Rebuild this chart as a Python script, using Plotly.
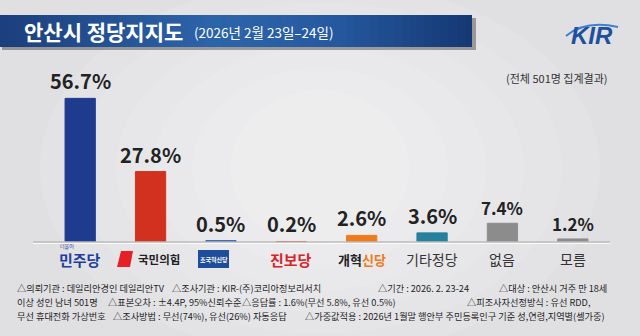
import plotly.graph_objects as go

# ---- data ----
parties = ["더불어민주당", "국민의힘", "조국혁신당", "진보당", "개혁신당", "기타정당", "없음", "모름"]
values = [56.7, 27.8, 0.5, 0.2, 2.6, 3.6, 7.4, 1.2]
value_labels = ["56.7%", "27.8%", "0.5%", "0.2%", "2.6%", "3.6%", "7.4%", "1.2%"]
bar_colors = ["#1f3b8e", "#d3311f", "#1f56a8", "#d9262b", "#ef7b1d", "#27809e", "#8c8c8c", "#8c8c8c"]
title_main = "안산시 정당지지도"
title_sub = "(2026년 2월 23일–24일)"
sample_note = "(전체 501명 집계결과)"
footer_segments = [
    [(16, "△의뢰기관 : 데일리안경인 데일리안TV"), (171, "△조사기관 : KIR-(주)코리아정보리서치"),
     (377, "△기간 : 2026. 2. 23-24"), (498, "△대상 : 안산시 거주 만 18세")],
    [(16, "이상 성인 남녀 501명"), (107, "△표본오차 : ±4.4P, 95%신뢰수준"),
     (241, "△응답률 : 1.6%(무선 5.8%, 유선 0.5%)"), (466, "△피조사자선정방식 : 유선 RDD,")],
    [(16, "무선 휴대전화 가상번호"), (112, "△조사방법 : 무선(74%), 유선(26%) 자동응답"),
     (304, "△가중값적용 : 2026년 1월말 행안부 주민등록인구 기준 성,연령,지역별(셀가중)")],
]

W, H = 640, 336
ML, MR, MT, MB = 45, 32, 90, 94
PW, PH = W - ML - MR, H - MT - MB
FONT = "Noto Sans CJK KR, Noto Sans, sans-serif"


def px(x):
    return (x - ML) / PW


def py(y):
    return (H - MB - y) / PH


fig = go.Figure()
fig.add_trace(go.Bar(
    x=parties, y=values,
    marker=dict(color=bar_colors, line=dict(color=bar_colors, width=1)),
    hoverinfo="skip",
))

shapes = []
annotations = []

# background soft vignette (lighter centre)
for k in range(6):
    dx = 40 + k * 38
    dy = 20 + k * 22
    shapes.append(dict(type="circle", xref="paper", yref="paper", layer="below",
                       x0=px(dx), x1=px(W - dx), y0=py(H + 40 - dy), y1=py(-40 + dy),
                       fillcolor="rgba(255,255,255,0.10)", line=dict(width=0)))

# banner shadow
shapes.append(dict(type="rect", xref="paper", yref="paper", layer="below",
                   x0=px(2), x1=px(476), y0=py(50), y1=py(18),
                   fillcolor="rgba(60,60,60,0.45)", line=dict(width=0)))


# banner gradient (strips)
def lerp(c1, c2, t):
    return tuple(int(round(a + (b - a) * t)) for a, b in zip(c1, c2))


stops = [(0, (28, 62, 124)), (0.45, (44, 100, 170)), (0.7, (38, 90, 160)), (1.0, (20, 56, 115))]
N = 60
x_start, x_end = 0, 472
for i in range(N):
    t = (i + 0.5) / N
    for j in range(len(stops) - 1):
        if stops[j][0] <= t <= stops[j + 1][0]:
            tt = (t - stops[j][0]) / (stops[j + 1][0] - stops[j][0])
            c = lerp(stops[j][1], stops[j + 1][1], tt)
            break
    xa = x_start + (x_end - x_start) * i / N
    xb = x_start + (x_end - x_start) * (i + 1) / N + 0.6
    shapes.append(dict(type="rect", xref="paper", yref="paper", layer="below",
                       x0=px(xa), x1=px(min(xb, x_end)), y0=py(47), y1=py(15),
                       fillcolor="rgb(%d,%d,%d)" % c, line=dict(width=0)))

# axis baseline
shapes.append(dict(type="line", xref="paper", yref="paper",
                   x0=px(33), x1=px(610), y0=py(242), y1=py(242),
                   line=dict(color="#bdbdbd", width=1.5)))
shapes.append(dict(type="line", xref="paper", yref="paper", layer="below",
                   x0=px(33), x1=px(610), y0=py(243.5), y1=py(243.5),
                   line=dict(color="rgba(255,255,255,0.8)", width=1)))

# title texts
annotations.append(dict(xref="paper", yref="paper", x=px(22), y=py(31), xanchor="left", yanchor="middle",
                        text="<b>" + title_main + "</b>", showarrow=False,
                        font=dict(family=FONT, size=21, color="white")))
annotations.append(dict(xref="paper", yref="paper", x=px(192), y=py(32), xanchor="left", yanchor="middle",
                        text=title_sub, showarrow=False,
                        font=dict(family=FONT, size=13.5, color="white")))

# KIR logo
annotations.append(dict(xref="paper", yref="paper", x=px(592), y=py(36), xanchor="center", yanchor="middle",
                        text="<b><i>KIR</i></b>", showarrow=False,
                        font=dict(family="Liberation Sans, Arial, sans-serif", size=24, color="#1f4f9f")))
shapes.append(dict(type="path", xref="paper", yref="paper",
                   path="M %f,%f Q %f,%f %f,%f" % (px(566), py(36), px(585), py(20), px(618), py(27)),
                   line=dict(color="#3d7fd0", width=2)))

# sample note
annotations.append(dict(xref="paper", yref="paper", x=px(610), y=py(78), xanchor="right", yanchor="middle",
                        text=sample_note, showarrow=False,
                        font=dict(family=FONT, size=11, color="#333333")))

# value labels
for i, (p, v, lab) in enumerate(zip(parties, values, value_labels)):
    size = 20 if i < 6 else 17
    annotations.append(dict(x=p, y=v, xref="x", yref="y", xanchor="center", yanchor="bottom",
                            yshift=1, text="<b>" + lab + "</b>", showarrow=False,
                            font=dict(family=FONT, size=size, color="#222222")))

# category labels
LY = py(259)
annotations.append(dict(x=parties[0], y=LY, xref="x", yref="paper", yanchor="middle",
                        text="<b>민주당</b>", showarrow=False, borderpad=0,
                        font=dict(family=FONT, size=15, color="#1c3fa0")))
annotations.append(dict(xref="paper", yref="paper", x=px(67), y=py(246), xanchor="center", yanchor="middle",
                        text="더불어", showarrow=False, borderpad=0,
                        font=dict(family=FONT, size=5, color="#1c3fa0")))
shapes.append(dict(type="path", xref="paper", yref="paper",
                   path="M %f,%f L %f,%f L %f,%f L %f,%f Z" % (
                       px(121), py(251), px(133), py(251), px(130), py(267), px(117), py(267)),
                   fillcolor="#e5202b", line=dict(width=0)))
annotations.append(dict(xref="paper", yref="paper", x=px(136), y=LY, xanchor="left", yanchor="middle",
                        text="<b>국민의힘</b>", showarrow=False,
                        font=dict(family=FONT, size=11.5, color="#222222")))
shapes.append(dict(type="rect", xref="paper", yref="paper",
                   x0=px(198), x1=px(229), y0=py(268), y1=py(250),
                   fillcolor="#1d4d9b", line=dict(width=0)))
annotations.append(dict(xref="paper", yref="paper", x=px(213.5), y=py(259), xanchor="center", yanchor="middle",
                        text="<b>조국혁신당</b>", showarrow=False,
                        font=dict(family=FONT, size=6, color="white")))
annotations.append(dict(x=parties[3], y=LY, xref="x", yref="paper", yanchor="middle",
                        text="<b>진보당</b>", showarrow=False,
                        font=dict(family=FONT, size=15, color="#d7222a")))
annotations.append(dict(x=parties[4], y=LY, xref="x", yref="paper", yanchor="middle",
                        text="<b>개혁<span style='color:#f07a1a'>신당</span></b>", showarrow=False,
                        font=dict(family=FONT, size=13, color="#222222")))
for k in range(5, 8):
    annotations.append(dict(x=parties[k], y=LY, xref="x", yref="paper", yanchor="middle",
                            text=parties[k], showarrow=False,
                            font=dict(family=FONT, size=14, color="#333333")))

# footer
for i, segs in enumerate(footer_segments):
    for x0, seg in segs:
        annotations.append(dict(xref="paper", yref="paper", x=px(x0), y=py(288 + 14 * i), xanchor="left",
                                yanchor="middle", text=seg, showarrow=False, borderpad=0,
                                font=dict(family=FONT, size=9.2, color="#1e1e1e")))

fig.update_layout(
    width=W, height=H,
    margin=dict(l=ML, r=MR, t=MT, b=MB, pad=0),
    paper_bgcolor="#e0e0e2", plot_bgcolor="rgba(0,0,0,0)",
    bargap=0.57, showlegend=False,
    xaxis=dict(showticklabels=False, showgrid=False, zeroline=False, showline=False, ticks="",
               categoryorder="array", categoryarray=parties, fixedrange=True),
    yaxis=dict(range=[0, 60], showticklabels=False, showgrid=False, zeroline=False, showline=False,
               ticks="", fixedrange=True),
    shapes=shapes, annotations=annotations,
    font=dict(family=FONT),
)

fig.write_html("out.html", config={"displayModeBar": False})
